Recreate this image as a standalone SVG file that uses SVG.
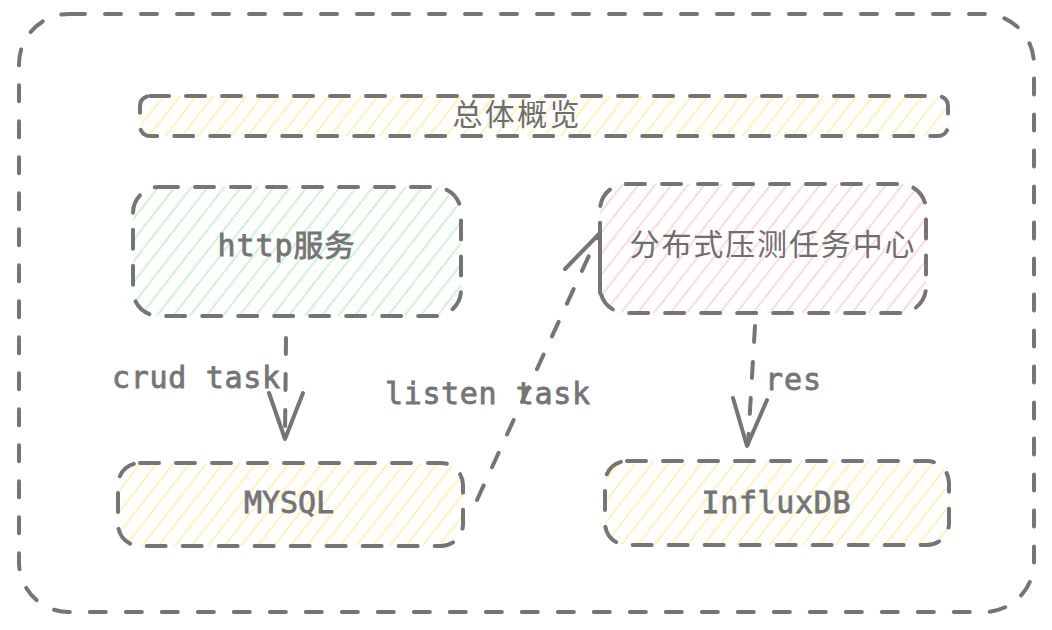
<svg xmlns="http://www.w3.org/2000/svg" width="1052" height="630" viewBox="0 0 1052 630">
  <defs>
    <pattern id="hatchY" width="13" height="13" patternUnits="userSpaceOnUse" patternTransform="rotate(38)">
      <line x1="6" y1="0" x2="6" y2="13" stroke="#ffec99" stroke-width="1.6" stroke-opacity="0.85"/>
    </pattern>
    <pattern id="hatchG" width="13" height="13" patternUnits="userSpaceOnUse" patternTransform="rotate(38)">
      <line x1="6" y1="0" x2="6" y2="13" stroke="#b2f2bb" stroke-width="1.6" stroke-opacity="0.85"/>
    </pattern>
    <pattern id="hatchR" width="13" height="13" patternUnits="userSpaceOnUse" patternTransform="rotate(38)">
      <line x1="6" y1="0" x2="6" y2="13" stroke="#ffc9c9" stroke-width="1.6" stroke-opacity="0.85"/>
    </pattern>
  </defs>
  <style>
    .box { stroke: #757575; stroke-width: 4; stroke-dasharray: 19 17; stroke-linecap: round; }
    .frame { fill: none; stroke: #757575; stroke-width: 4; stroke-dasharray: 16 20; stroke-linecap: round; }
    .conn { fill: none; stroke: #757575; stroke-width: 4; stroke-dasharray: 16 20; stroke-linecap: round; }
    .head { fill: none; stroke: #757575; stroke-width: 4; stroke-linecap: round; stroke-linejoin: round; }
    .mono { font-family: "DejaVu Sans Mono", "Liberation Mono", "Noto Sans CJK SC", monospace; font-size: 30px; font-weight: normal; fill: #757575; stroke: #757575; stroke-width: 0.8; }
    .cjk { font-family: "Noto Sans CJK SC", "Noto Sans", sans-serif; font-size: 30px; fill: #6e6e6e; }
  </style>
  <rect width="1052" height="630" fill="#ffffff"/>

  <g id="frame">
    <rect class="frame" x="19" y="14" width="1015" height="598" rx="50" ry="50"/>
  </g>

  <g id="node-overview">
    <rect class="box" x="140" y="96" width="808" height="40" rx="10" ry="10" fill="url(#hatchY)"/>
    <text class="cjk" x="516" y="125" text-anchor="middle" textLength="127">总体概览</text>
  </g>

  <g id="node-http">
    <rect class="box" x="133" y="187" width="328" height="129" rx="26" ry="26" fill="url(#hatchG)"/>
    <text class="mono" x="286" y="256" text-anchor="middle" textLength="137">http服务</text>
  </g>

  <g id="node-center">
    <rect class="box" x="600" y="184" width="326" height="129" rx="26" ry="26" fill="url(#hatchR)"/>
    <text class="cjk" x="772" y="255" text-anchor="middle" textLength="285">分布式压测任务中心</text>
  </g>

  <g id="node-mysql">
    <rect class="box" x="118" y="463" width="345" height="83" rx="22" ry="22" fill="url(#hatchY)"/>
    <text class="mono" x="289" y="513" text-anchor="middle" textLength="90">MYSQL</text>
  </g>

  <g id="node-influx">
    <rect class="box" x="605" y="461" width="344" height="84" rx="22" ry="22" fill="url(#hatchY)"/>
    <text class="mono" x="776" y="513" text-anchor="middle" textLength="149">InfluxDB</text>
  </g>

  <g id="connectors">
    <line class="conn" x1="286" y1="338" x2="285" y2="436"/>
    <polyline class="head" points="269,393 285,439 303,393"/>
    <text class="mono" x="112" y="388" textLength="168">crud task</text>

    <line class="conn" x1="477" y1="500" x2="597" y2="238"/>
    <polyline class="head" points="565,269 600,233 600,293"/>
    <text class="mono" x="385" y="404" textLength="205">listen task</text>

    <line class="conn" x1="755" y1="326" x2="748" y2="444"/>
    <polyline class="head" points="733,398 747,446 767,400"/>
    <text class="mono" x="765" y="390" textLength="56">res</text>
  </g>
</svg>
